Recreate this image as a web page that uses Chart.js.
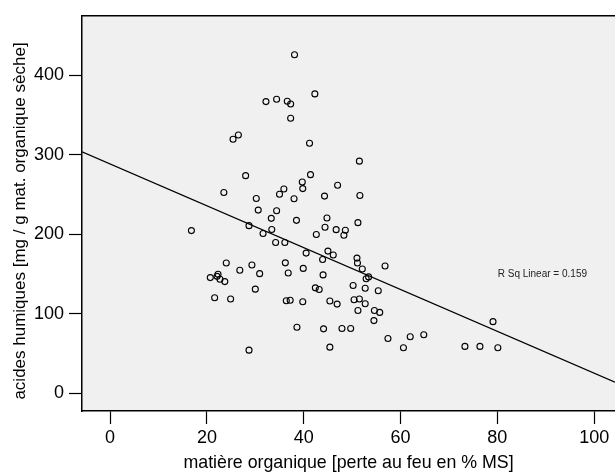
<!DOCTYPE html>
<html>
<head>
<meta charset="utf-8">
<script src="https://cdn.jsdelivr.net/npm/chart.js@4/dist/chart.umd.min.js"></script>
<style>
  html, body { margin: 0; padding: 0; background: #ffffff; overflow: hidden; }
  #wrap { width: 615px; height: 476px; }
  canvas { display: block; }
</style>
</head>
<body>
<div id="wrap"><canvas id="chart" width="615" height="476"></canvas></div>
<script>
// Organic matter (loss on ignition, % DM) per sample
const matiereOrganique = [
  38.1, 32.2, 34.4, 36.6, 37.3, 37.3, 26.5, 25.4, 28.0, 23.5,
  30.2, 35.9, 35.0, 38.0, 42.3, 41.2, 51.5, 41.4, 39.7, 39.8,
  47.0, 44.3, 51.6, 30.6, 34.4, 33.3, 38.5, 16.8, 28.7, 31.6,
  33.4, 34.2, 36.1, 24.0, 29.3, 36.2, 26.8, 30.9, 36.8, 22.3,
  22.1, 20.7, 22.7, 23.7, 30.0, 21.6, 24.9, 36.4, 37.2, 38.6,
  28.7, 44.8, 44.4, 46.7, 48.6, 48.3, 51.2, 42.6, 40.5, 45.0,
  46.1, 43.9, 51.0, 51.1, 52.1, 56.8, 52.9, 53.4, 39.9, 44.0,
  50.2, 52.7, 42.4, 43.2, 55.4, 39.8, 45.4, 46.9, 50.4, 51.5,
  52.7, 51.2, 54.6, 55.7, 54.5, 44.1, 47.9, 49.7, 57.4, 62.0,
  60.6, 45.4, 64.8, 79.1, 73.3, 76.4, 80.1
];

// Humic acids (mg / g organic dry matter) per sample
const acidesHumiques = [
  426, 367, 370, 367.5, 364, 346, 325, 319.6, 273.8, 252.5,
  245, 257, 250.4, 244.6, 376.7, 314.6, 292, 275, 265.8, 257.5,
  261.6, 248, 248.8, 230.4, 229.6, 220, 217.5, 204.6, 210.8, 201,
  206, 189.6, 189.6, 163.8, 161.3, 164, 154.6, 150.4, 151.3, 149.6,
  147, 145.4, 143.4, 140.4, 130.9, 120, 118.4, 116.3, 117, 82.9,
  54.1, 220.4, 208.8, 205.8, 205, 198.8, 214.6, 199.6, 176.3, 178.8,
  173.8, 168.3, 170, 163.8, 156.3, 160, 144, 146.3, 157, 148.8,
  135.4, 132, 132.5, 130.4, 128.8, 115, 115.9, 112.1, 117.5, 118.4,
  112.5, 104.1, 104.1, 101.6, 91.3, 80.9, 81.3, 81.3, 68.8, 70.9,
  57.1, 57.9, 73.4, 90, 58.8, 58.8, 57.1
];

// Linear fit of humic acids on organic matter
const fitIntercept = 288.5;
const fitSlope = -2.634;
const rSquared = 0.159;

// Axis extents and tick labels
const xRange = [-5.8, 104.3];
const yRange = [-22.5, 475];
const xTicks = [0, 20, 40, 60, 80, 100];
const yTicks = [0, 100, 200, 300, 400];

const xTitle = 'matière organique [perte au feu en % MS]';
const yTitle = 'acides humiques [mg / g mat. organique sèche]';

const points = matiereOrganique.map((x, i) => ({ x: x, y: acidesHumiques[i] }));
const fitLine = xRange.map(x => ({ x: x, y: fitIntercept + fitSlope * x }));

const FONT = "'Liberation Sans', Arial, sans-serif";

const plotFrame = {
  id: 'plotFrame',
  beforeDraw(chart) {
    const { ctx, chartArea: a } = chart;
    ctx.save();
    ctx.fillStyle = '#f0f0f0';
    ctx.fillRect(a.left, a.top, a.right - a.left, a.bottom - a.top);
    ctx.restore();
  },
  afterDraw(chart) {
    const { ctx, chartArea: a, scales } = chart;
    ctx.save();
    // top edge of the plot frame
    ctx.strokeStyle = '#000';
    ctx.lineWidth = 1.5;
    ctx.beginPath();
    ctx.moveTo(a.left, a.top);
    ctx.lineTo(a.right, a.top);
    ctx.stroke();
    // vertical axis title, centred a little below the plot middle
    ctx.fillStyle = '#000';
    ctx.font = '17px ' + FONT;
    ctx.textAlign = 'center';
    ctx.textBaseline = 'middle';
    ctx.translate(20, 221);
    ctx.rotate(-Math.PI / 2);
    ctx.fillText(yTitle, 0, 0);
    ctx.restore();

    // fit annotation
    ctx.save();
    ctx.fillStyle = '#222';
    ctx.font = '10px ' + FONT;
    ctx.textAlign = 'center';
    ctx.textBaseline = 'middle';
    ctx.fillText('R Sq Linear = ' + rSquared.toFixed(3),
      scales.x.getPixelForValue(89.3), scales.y.getPixelForValue(150));
    ctx.restore();
  }
};

new Chart(document.getElementById('chart'), {
  type: 'scatter',
  data: {
    datasets: [
      {
        label: 'fit',
        type: 'line',
        data: fitLine,
        borderColor: '#000',
        borderWidth: 1.3,
        pointRadius: 0,
        fill: false,
        order: 2
      },
      {
        label: 'échantillons',
        data: points,
        pointStyle: 'circle',
        pointRadius: 3,
        pointBorderWidth: 1.1,
        pointBorderColor: '#000',
        pointBackgroundColor: 'rgba(0,0,0,0)',
        order: 1
      }
    ]
  },
  options: {
    responsive: false,
    animation: false,
    layout: { autoPadding: false, padding: { top: 13, right: 0, left: 0, bottom: 0 } },
    plugins: {
      legend: { display: false },
      tooltip: { enabled: false }
    },
    scales: {
      x: {
        type: 'linear',
        min: xRange[0],
        max: xRange[1],
        afterBuildTicks(scale) { scale.ticks = xTicks.map(v => ({ value: v })); },
        afterFit(scale) { scale.height = 65; },
        grid: { display: true, drawOnChartArea: false, drawTicks: true, tickLength: 13, tickColor: '#000', tickWidth: 1.2 },
        border: { display: true, color: '#000', width: 1.5 },
        ticks: { color: '#000', font: { family: FONT, size: 18 }, padding: 3, maxRotation: 0 },
        title: { display: true, text: xTitle, color: '#000', font: { family: FONT, size: 17.8 }, padding: { top: 0, bottom: 2 } }
      },
      y: {
        type: 'linear',
        min: yRange[0],
        max: yRange[1],
        afterBuildTicks(scale) { scale.ticks = yTicks.map(v => ({ value: v })); },
        afterFit(scale) { scale.width = 82; },
        grid: { display: true, drawOnChartArea: false, drawTicks: true, tickLength: 13, tickColor: '#000', tickWidth: 1.2 },
        border: { display: true, color: '#000', width: 1.5 },
        ticks: { color: '#000', font: { family: FONT, size: 18 }, padding: 5 },
        title: { display: false }
      }
    }
  },
  plugins: [plotFrame]
});
</script>
</body>
</html>
